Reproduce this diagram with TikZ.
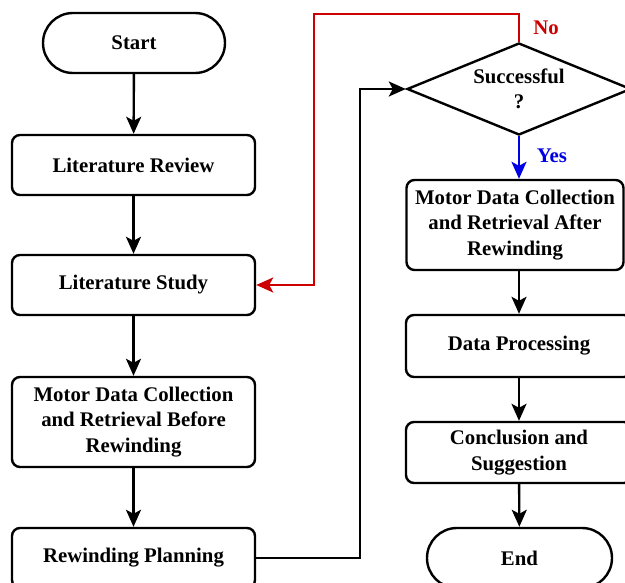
\documentclass[tikz,border=0pt]{standalone}
\usepackage{fontspec}
\setmainfont{Liberation Serif}
\usetikzlibrary{arrows.meta,shapes.geometric}
\definecolor{myred}{RGB}{204,0,0}
\definecolor{myblue}{RGB}{0,0,230}
\begin{document}
\begin{tikzpicture}[x=1pt,y=-1pt,
  every node/.style={font=\fontsize{20.8}{25.5}\selectfont\bfseries, align=center, inner sep=0pt},
  procbox/.style={draw, line width=2.4pt, rounded corners=8pt},
  termbox/.style={draw, line width=2.4pt, rounded rectangle},
  arr/.style={line width=2.4pt, -{Stealth[length=17pt,width=15pt,inset=4pt]}},
  lbl/.style={font=\fontsize{20.8}{25.5}\selectfont\bfseries}
]
\useasboundingbox (0,0) rectangle (625,583);
\tikzset{rounded rectangle/.style={rounded corners=30pt}}
% left column
\node[termbox, minimum width=182pt, minimum height=60pt] (start) at (134,43) {Start};
\node[procbox, minimum width=243pt, minimum height=60pt] (litrev) at (133.5,165) {Literature Review};
\node[procbox, minimum width=243pt, minimum height=60pt] (litstudy) at (133.5,285) {Literature Study};
\node[procbox, minimum width=243pt, minimum height=90pt] (mdbefore) at (133.5,422) {Motor Data Collection\\and Retrieval Before\\Rewinding};
\node[procbox, minimum width=243pt, minimum height=60pt] (rewplan) at (133.5,558) {Rewinding Planning};
% right column
\node[draw, line width=2.4pt, diamond, aspect=2.43, minimum width=224pt, minimum height=92pt] (dia) at (519,89) {Successful\\?};
\node[procbox, minimum width=217pt, minimum height=90pt] (mdafter) at (515,225) {Motor Data Collection\\and Retrieval After\\Rewinding};
\node[procbox, minimum width=226pt, minimum height=62pt] (dataproc) at (519,346) {Data Processing};
\node[procbox, minimum width=226pt, minimum height=61pt] (concl) at (519,452.5) {Conclusion and\\Suggestion};
\node[termbox, minimum width=185pt, minimum height=60pt] (endn) at (519.5,558) {End};
% labels
\node[lbl, text=myred] (no) at (546,28) {No};
\node[lbl, text=myblue] (yes) at (552,156) {Yes};
% connectors
\draw[arr] (start) -- (litrev);
\draw[arr] (litrev) -- (litstudy);
\draw[arr] (litstudy) -- (mdbefore);
\draw[arr] (mdbefore) -- (rewplan);
\coordinate (j1) at (360,558);
\draw[arr] (rewplan.east) -- (j1) |- (dia.west);
\coordinate (r1) at (314,14);
\draw[arr, myred] (dia.north) |- (r1) |- (litstudy.east);
\draw[arr, myblue] (dia.south) -- (dia.south |- mdafter.north);
\draw[arr] (dia.south |- mdafter.south) -- (dataproc.north);
\draw[arr] (dataproc) -- (concl);
\draw[arr] (concl) -- (endn);
\end{tikzpicture}
\end{document}
